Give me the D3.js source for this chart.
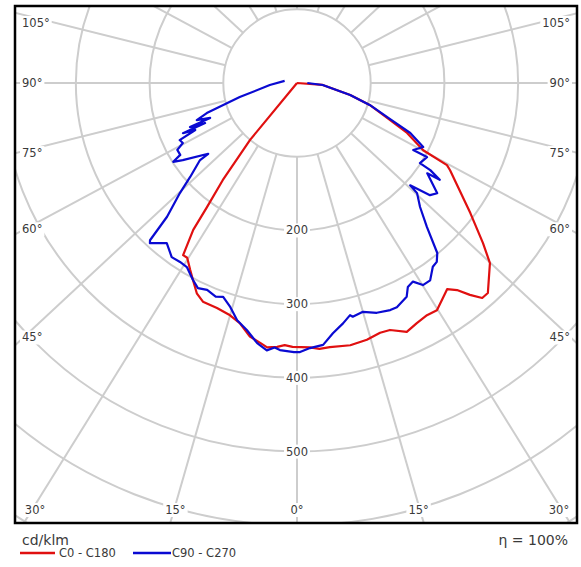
<!DOCTYPE html>
<html>
<head>
<meta charset="utf-8">
<script src="https://cdn.jsdelivr.net/npm/d3@7"></script>
<style>
  body { margin: 0; background: #fff; }
  text { font-family: "DejaVu Sans", Verdana, sans-serif; fill: #3a3a3a; }
</style>
</head>
<body>
<svg id="chart" width="581" height="567"></svg>
<script>
// intensity curves, [gamma angle in degrees (negative = left half), cd/klm]
var c0c180 = [
  [-41, 0], [-37.5, 100], [-35.4, 166], [-34, 208], [-33.3, 244], [-31.6, 280], [-30.3, 280],
  [-28, 292], [-26.2, 302], [-23.9, 316], [-21.8, 323], [-18.3, 324], [-15, 328], [-12.5, 335],
  [-9.8, 350], [-7.5, 356], [-6, 361], [-4, 359], [-2.5, 356], [-0.9, 358],
  [2.6, 359], [4.5, 362], [6.6, 361], [10.7, 363], [14.2, 361], [17.2, 357], [19.3, 358],
  [22.3, 369], [24.9, 364], [27.5, 361], [29.8, 362], [32.4, 352], [34.1, 346], [35.7, 355],
  [37.2, 371], [38.7, 385], [40.2, 385], [44.9, 358], [47.2, 333], [51.1, 294], [58.5, 239],
  [59.5, 232], [60.2, 194], [64, 164], [66.8, 136], [72, 103], [76.3, 74], [85.3, 35], [90, 0]
];
var c90c270 = [
  [-100.2, 17], [-85.4, 37], [-75.2, 80], [-70.3, 129], [-68.3, 145], [-66.6, 127], [-66.1, 157],
  [-64.9, 136], [-64.7, 169], [-63.6, 152], [-62.4, 177], [-60.5, 175], [-59, 186], [-56.5, 186],
  [-55.6, 199], [-54, 187], [-49.4, 154], [-49.5, 168], [-46.6, 193], [-44.7, 218], [-42.1, 253],
  [-41, 292], [-40.5, 295], [-37.1, 280], [-33.8, 291], [-31.3, 290], [-29.1, 291], [-26.2, 302],
  [-24.2, 309], [-22, 306], [-19.5, 310], [-17.8, 307], [-15.5, 317], [-13.2, 332], [-10.7, 342],
  [-8.1, 357], [-6, 365], [-4.5, 360], [-3.4, 363], [-0.6, 365],
  [0.6, 365], [2.6, 360], [5.3, 357], [7.6, 343], [10.1, 332], [12, 323], [12.5, 326], [15, 323],
  [17.9, 330], [20.9, 333], [22.5, 333], [25.5, 326], [26.8, 315], [28.5, 312], [30.1, 323],
  [32.1, 323], [34.5, 310], [36, 308], [37.5, 299], [40, 263], [42.7, 237], [45.4, 221],
  [45.8, 207], [47.8, 236], [49.8, 242], [53.3, 215], [53.9, 234], [54.9, 216], [55, 199],
  [58.5, 203], [58.2, 182], [61.4, 192], [64.6, 168], [67.4, 135], [72, 103], [76.3, 74],
  [85.3, 35], [90, 14]
];

var ringValues = [100, 200, 300, 400, 500, 600, 700];
var ringLabels = [200, 300, 400, 500];
var spokeAngles = d3.range(-165, 181, 15);
var sideLabels = [105, 90, 75, 60, 45];
var bottomLabels = [-30, -15, 0, 15, 30];
var series = [
  {name: "C0 - C180", color: "#e01010", data: c0c180},
  {name: "C90 - C270", color: "#0a0ad2", data: c90c270}
];

var svg = d3.select("#chart");
var frame = {x: 15, y: 6, w: 562, h: 517};
var cx = 297, cy = 83;
var k = 0.93; // the original's radial grid is drawn slightly flattened
var r = d3.scaleLinear().domain([0, 700]).range([0, 516]);

function dir(a) {
  var t = a * Math.PI / 180, dx = Math.sin(t), dy = k * Math.cos(t), n = Math.hypot(dx, dy);
  return [dx / n, dy / n];
}
function pt(a, v) {
  var d = dir(a), rr = r(v);
  return [cx + rr * d[0], cy + rr * d[1]];
}

svg.append("rect").attr("width", 581).attr("height", 567).attr("fill", "#fff");

svg.append("clipPath").attr("id", "clip")
  .append("rect").attr("x", frame.x).attr("y", frame.y).attr("width", frame.w).attr("height", frame.h);

var g = svg.append("g").attr("clip-path", "url(#clip)");

// rings
g.selectAll("circle.ring").data(ringValues).enter().append("circle")
  .attr("class", "ring")
  .attr("cx", cx).attr("cy", cy).attr("r", function(d){ return r(d); })
  .attr("fill", "none").attr("stroke", "#cdcdcd").attr("stroke-width", 2);

// spokes, from the first ring outward
g.selectAll("line.spoke").data(spokeAngles).enter().append("line")
  .attr("class", "spoke")
  .attr("x1", function(a){ return pt(a, 100)[0]; })
  .attr("y1", function(a){ return pt(a, 100)[1]; })
  .attr("x2", function(a){ return pt(a, 1000)[0]; })
  .attr("y2", function(a){ return pt(a, 1000)[1]; })
  .attr("stroke", "#cdcdcd").attr("stroke-width", 2);

// label with a white box behind it
function boxLabel(x, y, txt, anchor) {
  var lg = g.append("g");
  var t = lg.append("text").attr("x", x).attr("y", y).attr("dy", "0.35em")
    .attr("text-anchor", anchor).style("font-size", "11.5px").text(txt);
  var b = t.node().getBBox();
  lg.insert("rect", "text").attr("x", b.x - 2).attr("y", b.y).attr("width", b.width + 4)
    .attr("height", b.height).attr("fill", "#fff");
}

ringLabels.forEach(function(v){
  boxLabel(cx, cy + r(v), v, "middle");
});

sideLabels.forEach(function(a){
  [-1, 1].forEach(function(s){
    var d = dir(s * a), t = 265 / Math.abs(d[0]);
    var nudge = a === 90 ? 0 : (a === 45 ? 8 : (a === 105 ? 6 : 4));
    var y = cy + t * d[1] + nudge;
    if (s < 0) boxLabel(22, y, a + "°", "start");
    else boxLabel(570, y, a + "°", "end");
  });
});

bottomLabels.forEach(function(a){
  var d = dir(a), t = (505 - cy) / d[1];
  boxLabel(cx + t * d[0], 510, Math.abs(a) + "°", "middle");
});

// curves
var line = d3.line()
  .x(function(d){ return pt(d[0], d[1])[0]; })
  .y(function(d){ return pt(d[0], d[1])[1]; });

g.selectAll("path.curve").data(series).enter().append("path")
  .attr("class", "curve")
  .attr("d", function(s){ return line(s.data); })
  .attr("fill", "none").attr("stroke", function(s){ return s.color; })
  .attr("stroke-width", 2.2).attr("stroke-linejoin", "round");

// frame
svg.append("rect").attr("x", frame.x).attr("y", frame.y).attr("width", frame.w).attr("height", frame.h)
  .attr("fill", "none").attr("stroke", "#000").attr("stroke-width", 2.5);

// unit, legend, efficiency
svg.append("text").attr("x", 22).attr("y", 545).style("font-size", "14px").text("cd/klm");
svg.append("text").attr("x", 568).attr("y", 545).attr("text-anchor", "end")
  .style("font-size", "14px").text("η = 100%");

var legX = [20, 133];
var leg = svg.selectAll("g.leg").data(series).enter().append("g")
  .attr("class", "leg")
  .attr("transform", function(s, i){ return "translate(" + legX[i] + ",553)"; });
leg.append("line").attr("x1", 0).attr("x2", function(s, i){ return i ? 38 : 35; })
  .attr("stroke", function(s){ return s.color; }).attr("stroke-width", 2.5);
leg.append("text").attr("x", 39).attr("dy", "0.35em")
  .style("font-size", "11.5px").text(function(s){ return s.name; });
</script>
</body>
</html>
